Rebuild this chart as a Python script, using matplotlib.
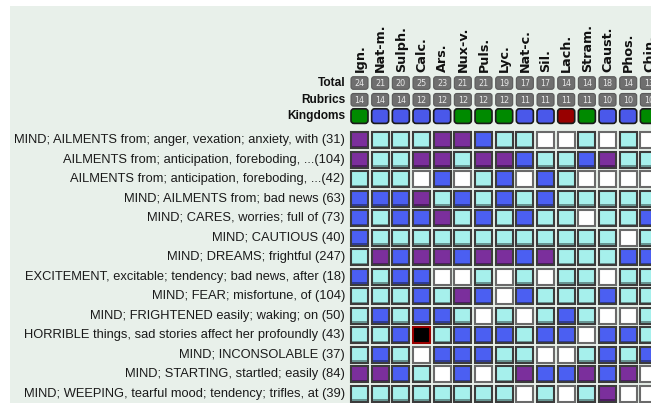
import matplotlib.pyplot as plt
from matplotlib.patches import Rectangle, FancyBboxPatch
import matplotlib.colors as mcolors

# remedies (columns) and their summary rows
remedies = ['Ign.', 'Nat-m.', 'Sulph.', 'Calc.', 'Ars.', 'Nux-v.', 'Puls.', 'Lyc.',
            'Nat-c.', 'Sil.', 'Lach.', 'Stram.', 'Caust.', 'Phos.', 'Chin.']
totals = [24, 21, 20, 25, 23, 21, 21, 19, 17, 17, 14, 14, 18, 14, 13]
rubric_counts = [14, 14, 14, 12, 12, 12, 12, 12, 11, 11, 11, 11, 10, 10, 10]
kingdoms = ['plant', 'mineral', 'mineral', 'mineral', 'mineral', 'plant', 'plant', 'plant',
            'mineral', 'mineral', 'animal', 'plant', 'mineral', 'mineral', 'plant']

# rubrics (rows)
rubrics = [
    'MIND; AILMENTS from; anger, vexation; anxiety, with (31)',
    'AILMENTS from; anticipation, foreboding, ...(104)',
    'AILMENTS from; anticipation, foreboding, ...(42)',
    'MIND; AILMENTS from; bad news (63)',
    'MIND; CARES, worries; full of (73)',
    'MIND; CAUTIOUS (40)',
    'MIND; DREAMS; frightful (247)',
    'EXCITEMENT, excitable; tendency; bad news, after (18)',
    'MIND; FEAR; misfortune, of (104)',
    'MIND; FRIGHTENED easily; waking; on (50)',
    'HORRIBLE things, sad stories affect her profoundly (43)',
    'MIND; INCONSOLABLE (37)',
    'MIND; STARTING, startled; easily (84)',
    'MIND; WEEPING, tearful mood; tendency; trifles, at (39)',
]

# grade of each remedy in each rubric (0 = absent)
grades = [
    [3, 1, 1, 1, 3, 3, 2, 1, 1, 0, 0, 1, 0, 1, 0],
    [3, 1, 1, 3, 3, 1, 3, 3, 2, 1, 1, 2, 3, 1, 1],
    [1, 1, 1, 0, 2, 0, 1, 2, 0, 2, 1, 0, 0, 0, 0],
    [2, 2, 2, 3, 1, 2, 1, 2, 1, 2, 1, 1, 1, 1, 1],
    [2, 1, 2, 2, 3, 1, 2, 1, 2, 1, 1, 0, 1, 1, 2],
    [2, 1, 1, 1, 1, 1, 1, 1, 1, 1, 1, 1, 1, 0, 1],
    [1, 3, 2, 3, 3, 2, 3, 3, 2, 3, 1, 1, 1, 2, 2],
    [2, 1, 2, 2, 0, 0, 1, 0, 1, 0, 1, 1, 0, 1, 1],
    [1, 1, 1, 2, 1, 3, 2, 0, 2, 1, 1, 1, 2, 1, 1],
    [1, 2, 1, 2, 2, 1, 0, 1, 0, 1, 2, 1, 0, 0, 1],
    [1, 1, 2, 4, 1, 2, 2, 2, 1, 2, 2, 0, 2, 2, 1],
    [1, 2, 1, 0, 2, 2, 2, 1, 1, 0, 0, 1, 2, 1, 2],
    [3, 3, 2, 1, 0, 2, 0, 1, 3, 2, 2, 3, 2, 3, 0],
    [1, 1, 1, 1, 1, 1, 1, 1, 0, 1, 0, 1, 3, 0, 0],
]

grade_colors = {0: '#ffffff', 1: '#a6f0ec', 2: '#4b5ff2', 3: '#7b2f9c', 4: '#000000'}
kingdom_colors = {'plant': '#008a00', 'mineral': '#4a58ea', 'animal': '#980000'}

W, H = 651, 403
fig = plt.figure(figsize=(W / 100, H / 100), dpi=100)
ax = fig.add_axes([0, 0, 1, 1])
ax.set_xlim(0, W)
ax.set_ylim(H, 0)
ax.axis('off')

ax.add_patch(Rectangle((10, 6), W, H, facecolor='#e8f0ea', edgecolor='none'))

x0, dx, cw = 351, 20.67, 17
y0, dy, ch = 132.3, 19.5, 16
label_x = 345


def darker(c, f=0.7):
    r, g, b = mcolors.to_rgb(c)
    return (r * f, g * f, b * f)


# column headers
for j, name in enumerate(remedies):
    cx = x0 + j * dx + cw / 2
    ax.text(cx + 0.5, 72.5, name, rotation=90, ha='center', va='bottom',
            fontsize=9.2, fontweight='bold', family='DejaVu Sans', color='#111111')

# Total / Rubrics rows
for row_y, row_h, vals, title in [(76.7, 12.6, totals, 'Total'), (93.5, 12.6, rubric_counts, 'Rubrics')]:
    ax.text(label_x, row_y + row_h / 2, title, ha='right', va='center',
            fontsize=8.6, fontweight='bold', family='Liberation Sans', color='#111111')
    for j, v in enumerate(vals):
        bx = x0 + j * dx
        ax.add_patch(FancyBboxPatch((bx + 1.5, row_y + 1.5), cw - 3, row_h - 3,
                                    boxstyle='round,pad=1.5,rounding_size=2.5',
                                    facecolor='#6f6f6f', edgecolor='#5a5a5a', lw=0.8))
        ax.text(bx + cw / 2, row_y + row_h / 2 + 0.3, str(v), ha='center', va='center',
                fontsize=5.8, color='#e8e8e8', family='DejaVu Sans')

# Kingdoms row
ky, kh = 108.8, 14.6
ax.text(label_x, ky + kh / 2, 'Kingdoms', ha='right', va='center',
        fontsize=8.6, fontweight='bold', family='Liberation Sans', color='#111111')
for j, k in enumerate(kingdoms):
    bx = x0 + j * dx
    ax.add_patch(FancyBboxPatch((bx + 1.5, ky + 1.5), cw - 3, kh - 3,
                                boxstyle='round,pad=1.5,rounding_size=3',
                                facecolor=kingdom_colors[k], edgecolor='#1a1a1a', lw=1.2))

# grid of rubrics
for i, label in enumerate(rubrics):
    cy = y0 + i * dy
    ax.text(label_x, cy + ch / 2, label, ha='right', va='center',
            fontsize=9.25, family='Liberation Sans', color='#1a1a1a')
    for j, g in enumerate(grades[i]):
        bx = x0 + j * dx
        fc = grade_colors[g]
        ec = '#9a0000' if g == 4 else ('#6a6a6a' if g == 0 else '#3c3c3c')
        ax.add_patch(Rectangle((bx, cy), cw, ch, facecolor=fc, edgecolor=ec, lw=1.5))
        if g in (1, 2, 3):
            ax.add_patch(Rectangle((bx + 1, cy + ch - 2.6), cw - 2, 1.6,
                                   facecolor=darker(fc, 0.62), edgecolor='none'))

fig.savefig('out.png', dpi=100, facecolor='white')
